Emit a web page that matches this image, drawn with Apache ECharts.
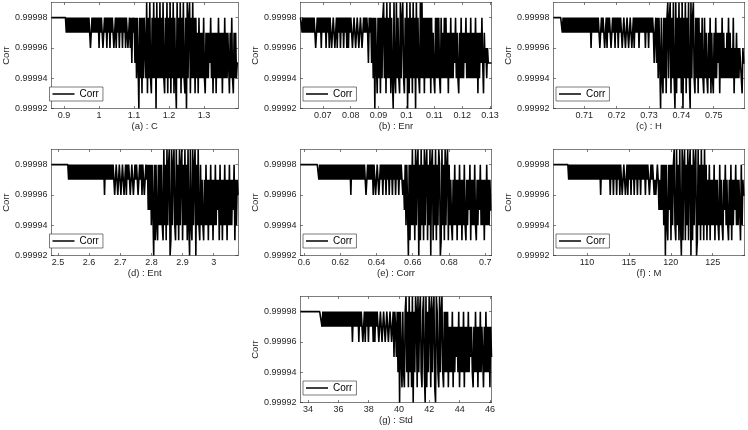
<!DOCTYPE html>
<html><head><meta charset="utf-8">
<script src="https://cdn.jsdelivr.net/npm/echarts@6/dist/echarts.min.js"></script>
<style>html,body{margin:0;padding:0;background:#fff}#c{width:748px;height:430px}</style>
</head><body><div id="c"></div>
<script>
// ---- data ----
const titles = ['(a) : C', '(b) : Enr', '(c) : H', '(d) : Ent', '(e) : Corr', '(f) : M', '(g) : Std'];
const xMin = [0.864, 0.062, 0.7005, 2.479, 0.598, 106, 33.5];
const xMax = [1.397, 0.1305, 0.7595, 3.078, 0.7035, 128.8, 46.1];
const xTicks = [
  [0.9, 1, 1.1, 1.2, 1.3],
  [0.07, 0.08, 0.09, 0.1, 0.11, 0.12, 0.13],
  [0.71, 0.72, 0.73, 0.74, 0.75],
  [2.5, 2.6, 2.7, 2.8, 2.9, 3],
  [0.6, 0.62, 0.64, 0.66, 0.68, 0.7],
  [110, 115, 120, 125],
  [34, 36, 38, 40, 42, 44, 46]
];
const yTicks = [0.99992, 0.99994, 0.99996, 0.99998];
const yMin = 0.99992, yMax = 0.99999;
// Corr samples (evenly spaced along x), one digit each: Corr = 0.9999 + digit * 0.00001
const corrA =
  "88888888888888888887" + "87878787878787878787" + "87878787876787878787" +
  "86878767878687868787" + "67868786878687868767" + "86858785848528483848" +
  "84938494384948294849" + "48494384938493849384" + "29484938494382948938" +
  "49483847384747484374" + "74758473747374847473" + "74847475374843747455";
const corrB =
  "88787878787878787876" + "78787868787868786876" + "78767868786878687868" +
  "68787678767876787678" + "78787587858482853848" + "38489483948493842943" +
  "94843948943849283948" + "39482948439494838484" + "84838474384848438474" +
  "84847374847475847437" + "48474758474748474748" + "47374758537564655555";
const corrC =
  "88888888888787878787" + "87878787878787878787" + "87878786878787878767" +
  "87876786878767878687" + "86878767876787678767" + "86878786878787868786" +
  "87878757858485284384" + "83894893849429384948" + "39284938494294894384" +
  "83847484384743748374" + "37484757374847464748" + "47464836474646543655";
const corrD =
  "88888888888888888888" + "88787878787878787878" + "78787878787878787878" +
  "78787878687878787878" + "76787678767876786878" + "76787678787678786876" +
  "78785858485283843848" + "48439483948923948943" + "94839489384948394294" +
  "39489284943847437484" + "73748473748475738473" + "74847374847475837476";
const corrE =
  "88888888888888888888" + "88878787878787878787" + "87878787878787878787" +
  "87868787878787878787" + "87678787878687678767" + "87868786878687868786" +
  "87868787675848528384" + "94839489283948394893" + "84928938493849823948" +
  "39489384743748473748" + "47374843747583747484" + "37475847473748474755";
const corrF =
  "88888888888888888887" + "87878787878787878787" + "87878787878787878786" +
  "87878787878687868786" + "87868767876786878687" + "86878687868787868787" +
  "67878767678757585848" + "28438583848943948394" + "29389384938928394892" +
  "39483948394837483747" + "48374743847437584743" + "74837475847475384766";
const corrG =
  "88888888888888888888" + "88888887878787878787" + "87878787878787878787" +
  "87878687878786878767" + "86878687878686878767" + "87678767876787678587" +
  "58482853843894839483" + "92849839489438942938" + "49839489329843948943" +
  "84848374748374757483" + "74748374748475743748" + "47374847537484747375";
const corrSeries = [corrA, corrB, corrC, corrD, corrE, corrF, corrG];

// ---- layout ----
const gridLeft = [47, 300.5, 553.5, 47, 300.5, 553.5, 300.5];
const gridTop = [2.5, 2.5, 2.5, 149.5, 149.5, 149.5, 296.5];
const GW = 191, GH = 106;
const FONT = '"Liberation Sans", Arial, Helvetica, sans-serif';
const AX = '#262626';

const grid = [], xAxis = [], yAxis = [], series = [], legend = [];
titles.forEach((t, k) => {
  grid.push({left: gridLeft[k], top: gridTop[k], width: GW, height: GH, show: false});
  const line = {show: true, onZero: false, lineStyle: {color: AX, width: 0.6}};
  xAxis.push({
    type: 'value', gridIndex: k, min: xMin[k], max: xMax[k], position: 'bottom',
    axisLine: line,
    axisTick: {show: true, inside: true, length: 2.5, customValues: xTicks[k], lineStyle: {color: AX, width: 0.6}},
    axisLabel: {show: true, customValues: xTicks[k], margin: 3, fontSize: 9, color: AX, fontFamily: FONT},
    splitLine: {show: false},
    name: t, nameLocation: 'middle', nameGap: 13,
    nameTextStyle: {fontSize: 9.5, color: AX, fontFamily: FONT}
  });
  xAxis.push({
    type: 'value', gridIndex: k, min: xMin[k], max: xMax[k], position: 'top',
    axisLine: line,
    axisTick: {show: true, inside: true, length: 2.5, customValues: xTicks[k], lineStyle: {color: AX, width: 0.6}},
    axisLabel: {show: false}, splitLine: {show: false}
  });
  yAxis.push({
    type: 'value', gridIndex: k, min: yMin, max: yMax, position: 'left',
    axisLine: line,
    axisTick: {show: true, inside: true, length: 2.5, customValues: yTicks, lineStyle: {color: AX, width: 0.6}},
    axisLabel: {show: true, customValues: yTicks, margin: 4, fontSize: 9, color: AX, fontFamily: FONT,
      formatter: v => Number(v).toFixed(5)},
    splitLine: {show: false},
    name: 'Corr', nameLocation: 'middle', nameGap: 33,
    nameTextStyle: {fontSize: 9.5, color: AX, fontFamily: FONT}
  });
  yAxis.push({
    type: 'value', gridIndex: k, min: yMin, max: yMax, position: 'right',
    axisLine: line,
    axisTick: {show: true, inside: true, length: 2.5, customValues: yTicks, lineStyle: {color: AX, width: 0.6}},
    axisLabel: {show: false}, splitLine: {show: false}
  });
  const s = corrSeries[k];
  const n = s.length;
  const data = [];
  for (let i = 0; i < n; i++) {
    const x = xMin[k] + i * (xMax[k] - xMin[k]) / (n - 1);
    const y = +(0.9999 + (+s[i]) * 1e-5).toFixed(5);
    data.push([x, y]);
  }
  series.push({
    type: 'line', name: 'Corr', xAxisIndex: 2 * k, yAxisIndex: 2 * k, data: data,
    symbol: 'none', showSymbol: false, clip: true, animation: false,
    lineStyle: {color: '#000', width: 1.6}, itemStyle: {color: '#000'}
  });
  legend.push({
    data: ['Corr'], left: gridLeft[k] + 2.5, top: gridTop[k] + GH - 21.5,
    icon: 'rect', itemWidth: 22, itemHeight: 1.5, padding: [2, 4, 2, 3],
    borderColor: AX, borderWidth: 0.6, backgroundColor: '#fff', selectedMode: false,
    textStyle: {fontSize: 10, color: '#000', fontFamily: FONT}
  });
});

const chart = echarts.init(document.getElementById('c'), null, {renderer: 'canvas'});
chart.setOption({animation: false, backgroundColor: '#fff', grid, xAxis, yAxis, series, legend});
</script>
</body></html>
